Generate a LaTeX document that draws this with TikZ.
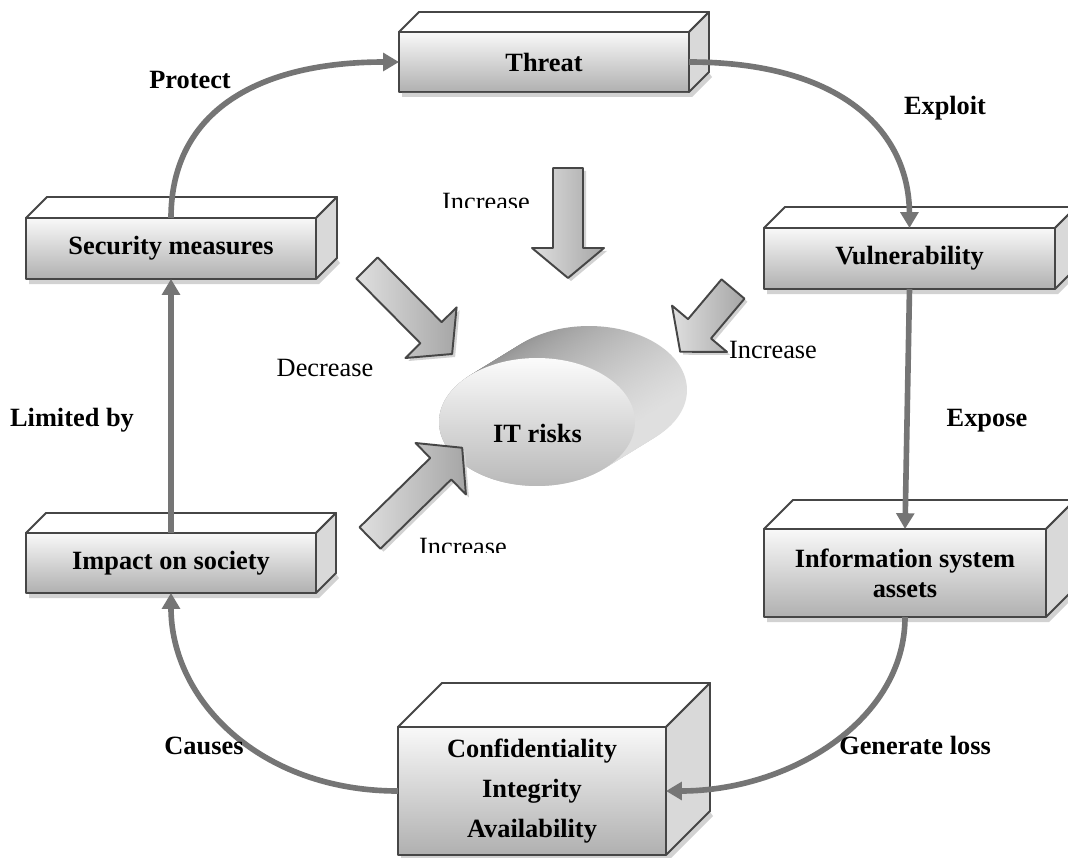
\documentclass[tikz,border=0pt]{standalone}
\usepackage{fontspec}
\setmainfont{Liberation Serif}
\usetikzlibrary{arrows.meta,calc}

\newcommand\pxu{0.02cm}
\newcommand\boxfont{\fontsize{15}{18}\selectfont\bfseries}
\newcommand\tagfont{\fontsize{15}{18}\selectfont}

\tikzset{
  boxline/.style={draw=gray!55!black, line width=1.1pt, line join=round},
  frontbox/.style={boxline, top color=gray!5, bottom color=gray!62,
    font=\boxfont, align=center, inner sep=0pt, outer sep=0pt},
  flow/.style={draw=gray!92!black, line width=3.2pt,
    -{Triangle[length=9pt,width=10pt]}},
  steplabel/.style={font=\boxfont, anchor=base},
  arrowlabel/.style={font=\tagfont, anchor=base},
  pics/arrowshade/.style={code={
    \fill[gray!35] (0,-15) -- (#1-30,-15) -- (#1-30,-36) -- (#1,0)
      -- (#1-30,36) -- (#1-30,15) -- (0,15) -- cycle;
  }},
  pics/bigarrow/.style={code={
    \draw[boxline, left color=gray!25, right color=gray!70]
      (0,-15) -- (#1-30,-15) -- (#1-30,-36) -- (#1,0)
      -- (#1-30,36) -- (#1-30,15) -- (0,15) -- cycle;
  }},
}

% top face, side face and floor shadow of a 3-D box whose front is node #1
\newcommand\boxfaces[2]{%
  \fill[gray!35] ($(#1.south west)+(3,1)$) -- ($(#1.south east)+(0,1)$)
    -- ($(#1.south east)+(#2,-#2+1)$) -- ($(#1.south east)+(#2+3,-#2+5)$)
    -- ($(#1.south east)+(3,5)$) -- ($(#1.south west)+(3,5)$) -- cycle;
  \draw[boxline, fill=white] (#1.north west) -- ($(#1.north west)+(#2,-#2)$)
    -- ($(#1.north east)+(#2,-#2)$) -- (#1.north east) -- cycle;
  \draw[boxline, fill=gray!30] (#1.north east) -- ($(#1.north east)+(#2,-#2)$)
    -- ($(#1.south east)+(#2,-#2)$) -- (#1.south east) -- cycle;
}

\begin{document}
\begin{tikzpicture}[x=0.02cm, y=-0.02cm]
\useasboundingbox (0,0) rectangle (1068,858);
\fill[white] (0,0) rectangle (1068,858);

% boxes
\node[frontbox, minimum width={290*\pxu}, minimum height={60*\pxu}] (threat) at (544,62) {Threat};
\boxfaces{threat}{20}
\node[frontbox, minimum width={290*\pxu}, minimum height={61*\pxu}] (secm) at (171,248.5) {Security measures};
\boxfaces{secm}{21}
\node[frontbox, minimum width={291*\pxu}, minimum height={61*\pxu}] (vuln) at (909.5,258.5) {Vulnerability};
\boxfaces{vuln}{21}
\node[frontbox, minimum width={282*\pxu}, minimum height={88*\pxu}, font=\fontsize{15}{17}\selectfont\bfseries] (assets) at (905,573) {Information system\\assets};
\boxfaces{assets}{29}
\node[frontbox, minimum width={290*\pxu}, minimum height={60*\pxu}] (impact) at (171,563) {Impact on society};
\boxfaces{impact}{20}
\node[frontbox, minimum width={268*\pxu}, minimum height={128*\pxu}, font=\fontsize{15}{22.7}\selectfont\bfseries] (cia) at (532,791) {Confidentiality\\Integrity\\Availability};
\boxfaces{cia}{44}

% IT risks disc
\coordinate (itback) at (589,390);
\coordinate (itfront) at (537,422);
\foreach \i in {0,...,24} {
  \pgfmathsetmacro\t{\i/24}
  \shade[left color=gray!85, right color=gray!25, shading angle=60]
    ($(itback)!\t!(itfront)$) ellipse [x radius=1.96cm, y radius=1.28cm];
}
\shade[top color=gray!3, bottom color=gray!55]
  (itfront) ellipse [x radius=1.96cm, y radius=1.28cm];
\node[steplabel] (itrisks) at (537.5,442) {IT risks};

% block arrows towards the risks
\pic[rotate=-90] at (571,171) {arrowshade=110};
\pic[rotate=-90] at (568,168) {bigarrow=110};
\pic[rotate=-45.3] at (370,271) {arrowshade=121};
\pic[rotate=-45.3] at (367,268) {bigarrow=121};
\pic[rotate=-130.1] at (736,292) {arrowshade=82};
\pic[rotate=-130.1] at (733,289) {bigarrow=82};
\pic[rotate=44.4] at (373,541) {arrowshade=129};
\pic[rotate=44.4] at (370,538) {bigarrow=129};

% cycle connectors
\draw[flow] (secm.north) .. controls (171,110) and (260,62) .. (threat.west);
\draw[flow] (threat.east) .. controls (840,62) and (909,130) .. (vuln.north);
\draw[flow] (vuln.south) -- (assets.north);
\draw[flow] (assets.south) .. controls (905,720) and (790,791) .. (cia.east);
\draw[flow] (cia.west) .. controls (260,791) and (171,700) .. (impact.south);
\draw[flow] (impact.north) -- (secm.south);

% connector labels
\node[steplabel] (lprotect) at (190,89) {Protect};
\node[steplabel] (lexploit) at (945,115) {Exploit};
\node[steplabel] (lexpose) at (987,426) {Expose};
\node[steplabel] (llimited) at (72,426) {Limited by};
\node[steplabel] (lgenerate) at (915,754) {Generate loss};
\node[steplabel] (lcauses) at (204,754) {Causes};

% labels of the block arrows
\node[arrowlabel] (ldecrease) at (325,376) {Decrease};
\node[arrowlabel] (lincright) at (773,358) {Increase};
\begin{scope}
  \clip (400,150) rectangle (560,208);
  \node[arrowlabel] (linctop) at (486,211) {Increase};
\end{scope}
\begin{scope}
  \clip (400,520) rectangle (560,552);
  \node[arrowlabel] (lincbottom) at (463,555) {Increase};
\end{scope}
\end{tikzpicture}
\end{document}
